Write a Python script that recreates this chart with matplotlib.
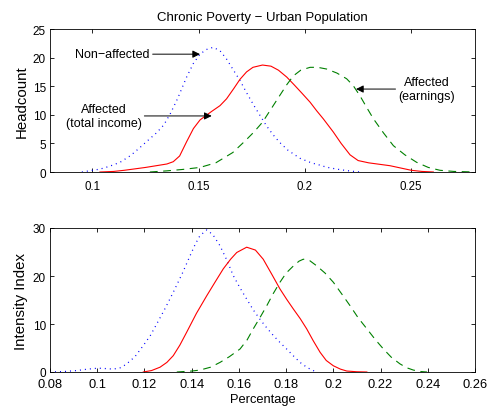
import matplotlib
matplotlib.use('Agg')
import matplotlib.pyplot as plt

plt.rcParams['font.family'] = ['Liberation Sans', 'DejaVu Sans']
plt.rcParams['font.size'] = 9

# headcount densities (upper panel)
hc_nonaff_x = [0.095, 0.1035, 0.108, 0.113, 0.118, 0.1224, 0.126, 0.13, 0.1335, 0.1365,
               0.14, 0.1443, 0.1475, 0.1506, 0.1535, 0.1568, 0.16, 0.163, 0.166, 0.1694,
               0.1726, 0.176, 0.1788, 0.182, 0.185, 0.188, 0.192, 0.1976, 0.203, 0.207,
               0.21, 0.215, 0.2196, 0.2243, 0.226]
hc_nonaff_y = [0.0, 0.5, 1.0, 1.7, 2.9, 4.3, 5.5, 6.8, 8.2, 10.1,
               12.8, 16.6, 19.0, 20.6, 21.4, 21.8, 21.2, 19.8, 18.0, 16.0,
               13.8, 11.6, 9.9, 8.0, 6.5, 5.2, 3.8, 2.4, 1.6, 1.2,
               0.85, 0.5, 0.25, 0.05, 0.0]

hc_income_x = [0.1035, 0.11, 0.115, 0.12, 0.125, 0.13, 0.135, 0.138, 0.141, 0.1443,
               0.1475, 0.1506, 0.1535, 0.1561, 0.16, 0.1631, 0.1665, 0.1694, 0.1725, 0.1755,
               0.18, 0.184, 0.1875, 0.1914, 0.195, 0.1985, 0.2024, 0.2055, 0.2086, 0.2133,
               0.217, 0.2212, 0.225, 0.23, 0.235, 0.24, 0.245, 0.25, 0.255, 0.2604]
hc_income_y = [0.0, 0.1, 0.3, 0.55, 0.8, 1.1, 1.4, 1.8, 2.8, 5.3,
               7.6, 9.1, 9.9, 10.6, 11.6, 12.8, 14.6, 16.2, 17.5, 18.3,
               18.7, 18.5, 17.8, 16.6, 15.2, 13.8, 12.2, 10.7, 9.3, 7.0,
               5.0, 3.0, 2.0, 1.6, 1.35, 1.1, 0.7, 0.3, 0.1, 0.0]

hc_earn_x = [0.127, 0.135, 0.1425, 0.1506, 0.158, 0.166, 0.172, 0.176, 0.18, 0.184,
             0.188, 0.1915, 0.1945, 0.198, 0.2024, 0.206, 0.2102, 0.215, 0.2196, 0.2227,
             0.2259, 0.229, 0.2322, 0.237, 0.2416, 0.247, 0.2525, 0.258, 0.2635, 0.27, 0.28]
hc_earn_y = [0.0, 0.2, 0.45, 0.8, 1.6, 3.4, 5.5, 7.0, 8.7, 11.0,
             13.3, 15.3, 16.8, 17.8, 18.3, 18.3, 18.0, 17.3, 16.3, 15.1,
             13.3, 11.3, 9.3, 6.8, 4.6, 3.0, 1.7, 0.8, 0.3, 0.1, 0.0]

# intensity index densities (lower panel)
ii_nonaff_x = [0.08, 0.086, 0.0913, 0.096, 0.1005, 0.104, 0.1068, 0.11, 0.1125, 0.116,
               0.1195, 0.1225, 0.1252, 0.1287, 0.1322, 0.136, 0.1393, 0.1415, 0.1435, 0.1464,
               0.149, 0.152, 0.155, 0.1576, 0.1605, 0.1633, 0.166, 0.1689, 0.1718, 0.1746,
               0.1775, 0.1802, 0.183, 0.1859, 0.189, 0.1915, 0.193]
ii_nonaff_y = [0.0, 0.1, 0.3, 0.6, 0.8, 0.7, 0.6, 0.9, 1.7, 3.2,
               5.5, 7.6, 10.0, 13.2, 16.6, 20.5, 24.2, 26.6, 28.4, 29.6,
               28.6, 26.3, 23.2, 20.1, 17.5, 15.2, 13.0, 11.0, 9.2, 7.6,
               6.1, 4.8, 3.4, 2.0, 0.9, 0.3, 0.0]

ii_income_x = [0.1195, 0.123, 0.1266, 0.1295, 0.1322, 0.135, 0.1379, 0.142, 0.1464, 0.15,
               0.1534, 0.1565, 0.1591, 0.1633, 0.167, 0.1703, 0.174, 0.1774, 0.1803, 0.1831,
               0.186, 0.1887, 0.1915, 0.1944, 0.197, 0.2, 0.203, 0.2057, 0.21, 0.2142]
ii_income_y = [0.0, 0.3, 1.0, 2.0, 3.4, 5.6, 8.3, 12.2, 15.9, 18.8,
               21.5, 23.5, 24.9, 26.0, 25.4, 23.5, 20.3, 17.3, 15.1, 13.1,
               11.1, 9.0, 6.5, 4.1, 2.4, 1.3, 0.6, 0.2, 0.05, 0.0]

ii_earn_x = [0.1337, 0.14, 0.1435, 0.148, 0.152, 0.156, 0.1605, 0.1635, 0.1661, 0.169,
             0.1718, 0.1745, 0.1774, 0.18, 0.1831, 0.1855, 0.1873, 0.19, 0.193, 0.1965,
             0.2, 0.2035, 0.2071, 0.2105, 0.2142, 0.2177, 0.2212, 0.2245, 0.2282, 0.231,
             0.2339, 0.237, 0.2397]
ii_earn_y = [0.0, 0.2, 0.4, 1.0, 2.0, 3.2, 4.8, 6.7, 9.0, 11.4,
             13.8, 16.3, 18.7, 20.6, 22.1, 23.1, 23.5, 23.2, 22.1, 20.6,
             18.7, 16.3, 13.8, 11.3, 9.0, 6.8, 4.8, 3.1, 1.7, 0.9,
             0.4, 0.1, 0.0]

fig = plt.figure(figsize=(4.91, 4.14), dpi=100)
ax1 = fig.add_axes([50 / 491, 1 - 173 / 414, 425 / 491, 143 / 414])
ax2 = fig.add_axes([50 / 491, 1 - 373 / 414, 425 / 491, 144 / 414])


def draw_curves(ax, nx, ny, ix, iy, ex, ey):
    ax.plot(nx, ny, color='#0000ff', lw=0.9, linestyle=(0, (0.8, 3.2)))
    ax.plot(ix, iy, color='#ff0000', lw=0.8)
    ax.plot(ex, ey, color='#008000', lw=0.8, linestyle=(0, (7, 5)))
    ax.tick_params(direction='in', top=True, right=True, length=3, width=0.6)
    ax.tick_params(axis='y', pad=3, labelsize=8.5)
    for s in ax.spines.values():
        s.set_linewidth(0.6)


draw_curves(ax1, hc_nonaff_x, hc_nonaff_y, hc_income_x, hc_income_y, hc_earn_x, hc_earn_y)
ax1.set_xlim(0.08, 0.28)
ax1.set_ylim(0, 25)
ax1.set_xticks([0.1, 0.15, 0.2, 0.25])
ax1.set_xticklabels(['0.1', '0.15', '0.2', '0.25'])
ax1.tick_params(axis='x', pad=5.5, labelsize=8.3)
ax1.set_yticks([0, 5, 10, 15, 20, 25])
ax1.set_ylabel('Headcount', fontsize=10.8, labelpad=3)
ax1.set_title('Chronic Poverty \u2212 Urban Population', fontsize=9.5, pad=6.5)

arrow = dict(arrowstyle='-|>', color='black', lw=0.7, mutation_scale=11,
             shrinkA=0, shrinkB=0)
ax1.annotate('Non\u2212affected', xy=(0.1506, 20.6), xytext=(0.127, 20.6),
             ha='right', va='center', arrowprops=arrow)
ax1.annotate('Affected\n(total income)', xy=(0.1561, 9.8), xytext=(0.1231, 9.8),
             ha='right', va='center', multialignment='center', arrowprops=arrow)
ax1.annotate('Affected\n(earnings)', xy=(0.224, 14.5), xytext=(0.2439, 14.5),
             ha='left', va='center', multialignment='center', arrowprops=arrow)

draw_curves(ax2, ii_nonaff_x, ii_nonaff_y, ii_income_x, ii_income_y, ii_earn_x, ii_earn_y)
ax2.set_xlim(0.08, 0.26)
ax2.set_ylim(0, 30)
xt = [0.08, 0.1, 0.12, 0.14, 0.16, 0.18, 0.2, 0.22, 0.24, 0.26]
ax2.set_xticks(xt)
ax2.set_xticklabels(['0.08', '0.1', '0.12', '0.14', '0.16', '0.18', '0.2', '0.22', '0.24', '0.26'])
ax2.tick_params(axis='x', pad=4.5, labelsize=9.3)
ax2.set_yticks([0, 10, 20, 30])
ax2.set_ylabel('Intensity Index', fontsize=10.8, labelpad=3)
ax2.set_xlabel('Percentage', fontsize=9.3, labelpad=2)

fig.savefig('out.png', dpi=100)
